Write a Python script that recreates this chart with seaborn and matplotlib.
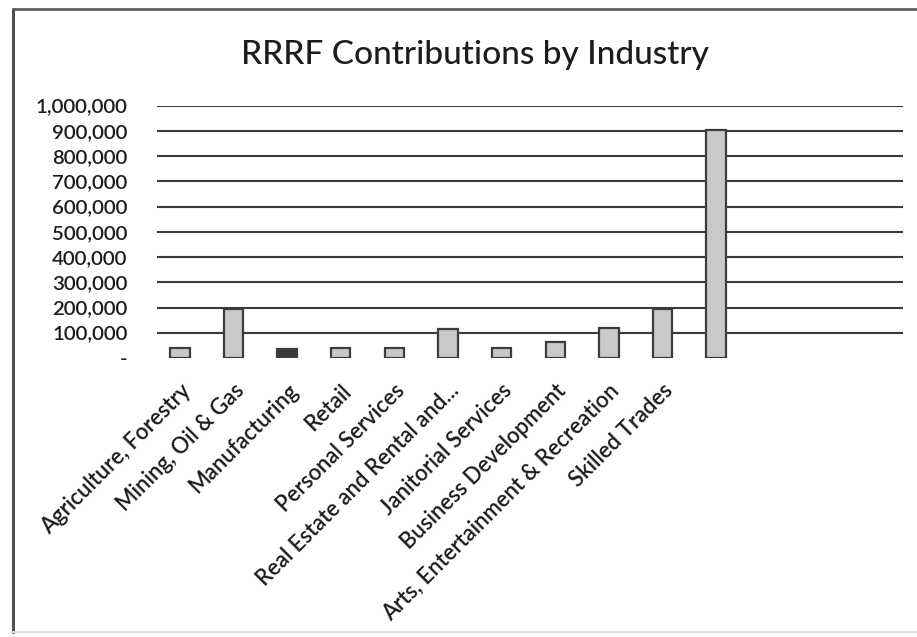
import numpy as np
import pandas as pd
import matplotlib
matplotlib.use("Agg")
import matplotlib.pyplot as plt
import seaborn as sns
from matplotlib.lines import Line2D
from matplotlib.ticker import FuncFormatter

# ---- data ----
industries = [
    "Agriculture, Forestry",
    "Mining, Oil & Gas",
    "Manufacturing",
    "Retail",
    "Personal Services",
    "Real Estate and Rental and...",
    "Janitorial Services",
    "Business Development",
    "Arts, Entertainment & Recreation",
    "Skilled Trades",
    " ",  # the tall last bar has no label in the source
]
contributions = [40000, 195000, 37000, 40000, 40000, 115000, 40000, 63000, 119000, 195000, 905000]
bar_colors = ["#c9c9c9", "#c9c9c9", "#3a3a3a", "#c9c9c9", "#c9c9c9", "#c9c9c9",
              "#c9c9c9", "#c9c9c9", "#c9c9c9", "#c9c9c9", "#c9c9c9"]

df = pd.DataFrame({"industry": industries, "amount": contributions})

sns.set_theme(style="white")
plt.rcParams["font.family"] = ["Lato", "DejaVu Sans"]

fig = plt.figure(figsize=(9.17, 6.37), dpi=100)
ax = fig.add_axes([0.171, 0.438, 0.814, 0.396])

sns.barplot(data=df, x="industry", y="amount", hue="industry",
            palette=bar_colors, legend=False, width=0.36,
            edgecolor="#3c3c3c", linewidth=1.6, saturation=1, ax=ax)

ax.set_ylim(0, 1000000)
ax.set_xlim(-0.43, 13.49)
ax.set_yticks(np.arange(0, 1000001, 100000))
ax.yaxis.set_major_formatter(FuncFormatter(lambda v, p: "-" if v == 0 else f"{int(v):,}"))
ax.grid(axis="y", color="#3a3a3a", linewidth=1.5)
ax.get_ygridlines()[0].set_visible(False)
ax.set_axisbelow(True)
for s in ax.spines.values():
    s.set_visible(False)

ax.tick_params(axis="y", length=0, pad=21, labelsize=14.7, labelcolor="#1c1c1c")
ax.tick_params(axis="x", length=0, pad=16, labelsize=15.8, labelcolor="#1c1c1c")
ax.set_xticks(range(len(industries)))
ax.set_xticklabels(industries, rotation=45, ha="right", rotation_mode="anchor")
for t in ax.get_xticklabels() + ax.get_yticklabels():
    t.set_fontweight("semibold")
ax.set_xlabel("")
ax.set_ylabel("")

fig.text(0.518, 0.913, "RRRF Contributions by Industry", ha="center", va="center",
         fontsize=24, color="#1c1c1c", fontweight="medium")

# chart border (left and top dark, bottom faint)
fig.add_artist(Line2D([0.0142, 0.0142], [0.008, 0.986], color="#505050", lw=2.2))
fig.add_artist(Line2D([0.0142, 1.0], [0.986, 0.986], color="#606060", lw=2.0))
fig.add_artist(Line2D([0.0142, 1.0], [0.008, 0.008], color="#dddddd", lw=1.5))

fig.savefig("out.png", dpi=100)
